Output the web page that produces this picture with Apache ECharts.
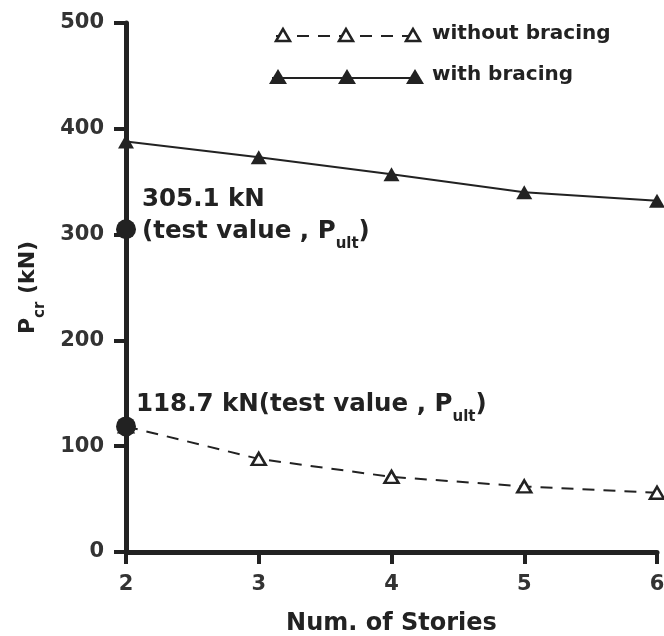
<!DOCTYPE html>
<html>
<head>
<meta charset="utf-8">
<script src="https://cdn.jsdelivr.net/npm/echarts@6/dist/echarts.min.js"></script>
<style>
html,body{margin:0;padding:0;background:#fff;}
#chart{width:664px;height:636px;}
</style>
</head>
<body>
<div id="chart"></div>
<script>
// ---- data ----
var stories = [2, 3, 4, 5, 6];
var withoutBracing = [118.7, 88, 71, 62, 56];
var withBracing = [388, 373, 357, 340, 332];
var testValues = [305.1, 118.7];
var yTicks = [0, 100, 200, 300, 400, 500];
var xTicks = [2, 3, 4, 5, 6];

var FONT = 'DejaVu Sans';
var INK = '#222';

function pairs(xs, ys) { return xs.map(function (x, i) { return [x, ys[i]]; }); }

var chart = echarts.init(document.getElementById('chart'), null, {renderer: 'canvas'});

var option = {
  animation: false,
  backgroundColor: '#fff',
  textStyle: {fontFamily: FONT, color: INK},
  grid: {left: 126, right: 7, top: 23, bottom: 84, containLabel: false, outerBoundsMode: 'none'},
  xAxis: {
    type: 'value', min: xTicks[0], max: xTicks[xTicks.length - 1], interval: 1,
    name: 'Num. of Stories', nameLocation: 'middle', nameGap: 60,
    nameTextStyle: {fontFamily: FONT, fontWeight: 'bold', fontSize: 24, color: INK},
    axisLine: {lineStyle: {color: INK, width: 5}},
    axisTick: {show: true, length: 12, lineStyle: {color: INK, width: 4}},
    axisLabel: {margin: 22, fontFamily: FONT, fontWeight: 'bold', fontSize: 21, color: '#333'},
    splitLine: {show: false}
  },
  yAxis: {
    type: 'value', min: yTicks[0], max: yTicks[yTicks.length - 1], interval: 100,
    name: '{b|P}{s|cr}{b| (kN)}', nameLocation: 'middle', nameGap: 84, nameRotate: 90,
    nameTextStyle: {
      rich: {
        b: {fontFamily: FONT, fontWeight: 'bold', fontSize: 22, color: INK, lineHeight: 28},
        s: {fontFamily: FONT, fontWeight: 'bold', fontSize: 15, color: INK, lineHeight: 28, verticalAlign: 'bottom', padding: [0, 0, -6, 0]}
      }
    },
    axisLine: {show: true, lineStyle: {color: INK, width: 5}},
    axisTick: {show: true, length: 12, lineStyle: {color: INK, width: 4}},
    axisLabel: {margin: 22, fontFamily: FONT, fontWeight: 'bold', fontSize: 21, color: '#333'},
    splitLine: {show: false}
  },
  series: [
    {
      name: 'with bracing', type: 'line', data: pairs(stories, withBracing),
      symbol: 'triangle', symbolSize: [16, 14], showSymbol: true,
      lineStyle: {color: INK, width: 2},
      itemStyle: {color: INK, borderColor: INK, borderWidth: 0},
      z: 3
    },
    {
      name: 'without bracing', type: 'line', data: pairs(stories, withoutBracing),
      symbol: 'triangle', symbolSize: [14, 12], showSymbol: true,
      lineStyle: {color: INK, width: 2, type: [12, 9]},
      itemStyle: {color: '#fff', borderColor: INK, borderWidth: 2.5},
      z: 3
    },
    {
      name: 'test', type: 'scatter',
      data: [
        {value: [stories[0], testValues[0]], label: {
          show: true, position: 'right', distance: 6, offset: [0, -14],
          formatter: '{m|305.1 kN}\n{m|(test value , P}{s|ult}{m|)}'
        }},
        {value: [stories[0], testValues[1]], label: {
          show: true, position: 'right', distance: 0, offset: [0, -22],
          formatter: '{m|118.7 kN(test value , P}{s|ult}{m|)}'
        }}
      ],
      symbol: 'circle', symbolSize: 20,
      itemStyle: {color: INK, opacity: 1},
      label: {
        color: INK,
        rich: {
          m: {fontFamily: FONT, fontWeight: 'bold', fontSize: 24.5, color: INK, lineHeight: 32},
          s: {fontFamily: FONT, fontWeight: 'bold', fontSize: 15, color: INK, lineHeight: 32, verticalAlign: 'bottom', padding: [0, 0, -4, 0]}
        }
      },
      emphasis: {disabled: true},
      z: 5
    }
  ],
  graphic: [
    // legend row 1: without bracing (dashed, hollow triangles)
    {type: 'line', shape: {x1: 276, y1: 36, x2: 413, y2: 36}, style: {stroke: INK, lineWidth: 2, lineDash: [12, 9]}, z: 10},
    {type: 'polygon', shape: {points: [[283, 29], [276, 41], [290, 41]]}, style: {fill: '#fff', stroke: INK, lineWidth: 2.5}, z: 11},
    {type: 'polygon', shape: {points: [[346, 29], [339, 41], [353, 41]]}, style: {fill: '#fff', stroke: INK, lineWidth: 2.5}, z: 11},
    {type: 'polygon', shape: {points: [[413, 29], [406, 41], [420, 41]]}, style: {fill: '#fff', stroke: INK, lineWidth: 2.5}, z: 11},
    {type: 'text', left: 432, top: 24, style: {text: 'without bracing', font: 'bold 20px "DejaVu Sans"', fill: INK}, z: 11},
    // legend row 2: with bracing (solid, filled triangles)
    {type: 'line', shape: {x1: 272, y1: 78, x2: 420, y2: 78}, style: {stroke: INK, lineWidth: 2}, z: 10},
    {type: 'polygon', shape: {points: [[278, 69], [269, 84], [287, 84]]}, style: {fill: INK}, z: 11},
    {type: 'polygon', shape: {points: [[347, 69], [338, 84], [356, 84]]}, style: {fill: INK}, z: 11},
    {type: 'polygon', shape: {points: [[415, 69], [406, 84], [424, 84]]}, style: {fill: INK}, z: 11},
    {type: 'text', left: 432, top: 65, style: {text: 'with bracing', font: 'bold 20px "DejaVu Sans"', fill: INK}, z: 11}
  ]
};
chart.setOption(option);
</script>
</body>
</html>
